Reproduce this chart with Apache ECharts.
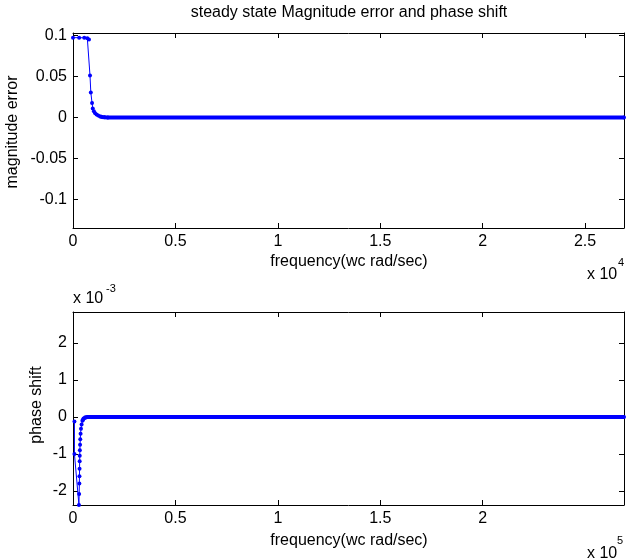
<!DOCTYPE html>
<html>
<head>
<meta charset="utf-8">
<script src="https://cdn.jsdelivr.net/npm/echarts@6/dist/echarts.min.js"></script>
<style>
  html, body { margin: 0; padding: 0; background: #fff; }
  #chart { width: 626px; height: 560px; }
</style>
</head>
<body>
<div id="chart"></div>
<script>
// magnitude error vs frequency (wc rad/sec)
const magFreq = [0, 300, 550, 700, 780, 830, 870, 930, 965, 1020, 1080, 1150, 1230, 1320, 1420, 1550, 1700, 26900]
const magErr = [0.0973, 0.0973, 0.0971, 0.0965, 0.095, 0.051, 0.0305, 0.0175, 0.011, 0.0075, 0.0052, 0.0035, 0.0022, 0.0012, 0.0006, 0.0002, 0, 0]
const magTailFrom = 1320

// phase shift vs frequency (wc rad/sec)
const phaseFreq = [700, 700, 2900, 3000, 3100, 3150, 3200, 3250, 3300, 3350, 3450, 3550, 3700, 3900, 4200, 4600, 5200, 6000, 7000, 269000]
const phaseVal = [-0.00012, -0.001, -0.00238, -0.00208, -0.0018, -0.0016, -0.0014, -0.0012, -0.00105, -0.0009, -0.00075, -0.0006, -0.00045, -0.00032, -0.0002, -0.0001, -0.00004, -0.00001, 0, 0]
const phaseTailFrom = 4600

// tick values
const magXTicks = [0, 5000, 10000, 15000, 20000, 25000]
const magYTicks = [-0.1, -0.05, 0, 0.05, 0.1]
const phaseXTicks = [0, 50000, 100000, 150000, 200000]
const phaseYTicks = [-0.002, -0.001, 0, 0.001, 0.002]

const FONT = 'Liberation Sans, Arial, sans-serif'
const BLUE = '#0000ff'

const magData = magFreq.map((f, i) => [f, magErr[i]])
const phaseData = phaseFreq.map((f, i) => [f, phaseVal[i]])

function axis(opt, ticks, showLabel, formatter) {
  return Object.assign({
    type: 'value',
    axisLine: { show: true, onZero: false, lineStyle: { color: '#000', width: 1 } },
    axisTick: { show: true, inside: true, length: 5, customValues: ticks, lineStyle: { color: '#000' } },
    axisLabel: {
      show: showLabel,
      customValues: ticks,
      formatter: formatter,
      color: '#000',
      fontSize: 16,
      fontFamily: FONT,
      margin: 6
    },
    splitLine: { show: false }
  }, opt)
}

function txt(x, y, text, size, extra) {
  return {
    type: 'text',
    x: x,
    y: y,
    rotation: extra && extra.rotation ? extra.rotation : 0,
    style: {
      text: text,
      fill: '#000',
      fontSize: size,
      fontFamily: FONT,
      textAlign: extra && extra.align ? extra.align : 'center',
      textVerticalAlign: 'middle'
    }
  }
}

const myChart = echarts.init(document.getElementById('chart'))
const options = {
  animation: false,
  grid: [
    { left: 73, right: 2, top: 33, height: 195 },
    { left: 73, right: 2, top: 312, height: 193 }
  ],
  xAxis: [
    axis({ gridIndex: 0, position: 'bottom', min: 0, max: 26900 }, magXTicks, true, v => String(v / 1e4)),
    axis({ gridIndex: 0, position: 'top', min: 0, max: 26900 }, magXTicks, false),
    axis({ gridIndex: 1, position: 'bottom', min: 0, max: 269000 }, phaseXTicks, true, v => String(v / 1e5)),
    axis({ gridIndex: 1, position: 'top', min: 0, max: 269000 }, phaseXTicks, false)
  ],
  yAxis: [
    axis({ gridIndex: 0, position: 'left', min: -0.135, max: 0.103 }, magYTicks, true, v => String(v)),
    axis({ gridIndex: 0, position: 'right', min: -0.135, max: 0.103 }, magYTicks, false),
    axis({ gridIndex: 1, position: 'left', min: -0.00238, max: 0.00284 }, phaseYTicks, true, v => String(Math.round(v * 1000))),
    axis({ gridIndex: 1, position: 'right', min: -0.00238, max: 0.00284 }, phaseYTicks, false)
  ],
  series: [
    {
      type: 'line',
      xAxisIndex: 0,
      yAxisIndex: 0,
      data: magData,
      symbol: 'circle',
      symbolSize: 4,
      showAllSymbol: true,
      lineStyle: { color: BLUE, width: 1 },
      itemStyle: { color: BLUE },
      z: 3
    },
    {
      type: 'line',
      xAxisIndex: 0,
      yAxisIndex: 0,
      data: magData.filter(d => d[0] >= magTailFrom),
      symbol: 'none',
      lineStyle: { color: BLUE, width: 4 },
      z: 3
    },
    {
      type: 'line',
      xAxisIndex: 2,
      yAxisIndex: 2,
      data: phaseData,
      symbol: 'circle',
      symbolSize: 4,
      showAllSymbol: true,
      lineStyle: { color: BLUE, width: 1 },
      itemStyle: { color: BLUE },
      z: 3
    },
    {
      type: 'line',
      xAxisIndex: 2,
      yAxisIndex: 2,
      data: phaseData.filter(d => d[0] >= phaseTailFrom),
      symbol: 'none',
      lineStyle: { color: BLUE, width: 4 },
      z: 3
    }
  ],
  graphic: [
    txt(349, 13, 'steady state Magnitude error and phase shift', 16),
    txt(349, 262, 'frequency(wc rad/sec)', 16),
    txt(349, 541, 'frequency(wc rad/sec)', 16),
    txt(13, 132, 'magnitude error', 16, { rotation: Math.PI / 2 }),
    txt(37, 405, 'phase shift', 16, { rotation: Math.PI / 2 }),
    txt(587, 275, 'x 10', 16, { align: 'left' }),
    txt(618, 263, '4', 11, { align: 'left' }),
    txt(587, 554, 'x 10', 16, { align: 'left' }),
    txt(617, 541, '5', 11, { align: 'left' }),
    txt(73, 299, 'x 10', 16, { align: 'left' }),
    txt(106, 289, '-3', 11, { align: 'left' })
  ]
}
myChart.setOption(options)
</script>
</body>
</html>
